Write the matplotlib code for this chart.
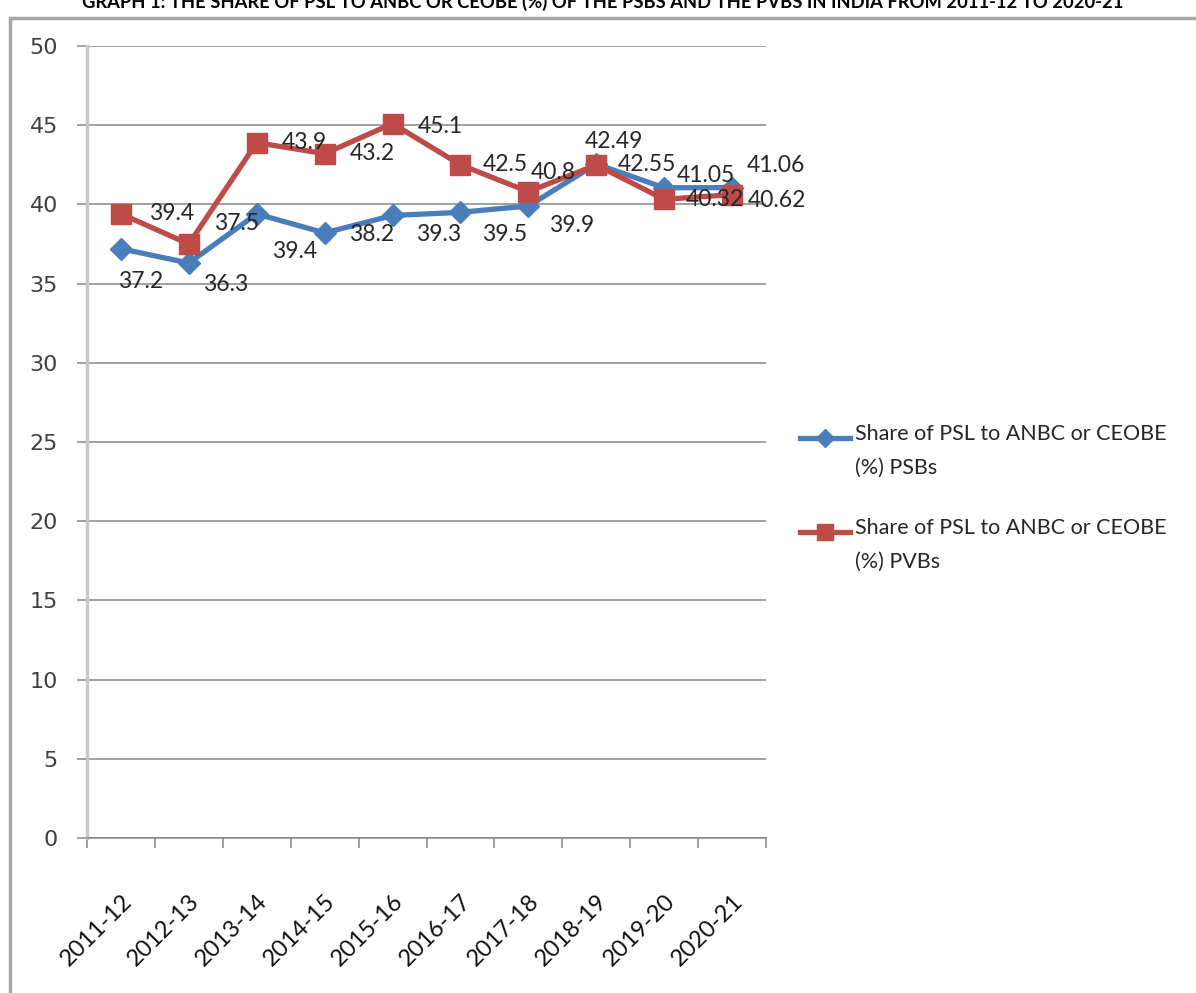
import numpy as np
import matplotlib.pyplot as plt
from matplotlib.lines import Line2D
from matplotlib.patches import Rectangle

plt.rcParams['font.family'] = ['Lato', 'DejaVu Sans']

years = ['2011-12', '2012-13', '2013-14', '2014-15', '2015-16',
         '2016-17', '2017-18', '2018-19', '2019-20', '2020-21']
psb = [37.2, 36.3, 39.4, 38.2, 39.3, 39.5, 39.9, 42.55, 41.05, 41.06]
pvb = [39.4, 37.5, 43.9, 43.2, 45.1, 42.5, 40.8, 42.49, 40.32, 40.62]
psb_name = 'Share of PSL to ANBC or CEOBE\n(%) PSBs'
pvb_name = 'Share of PSL to ANBC or CEOBE\n(%) PVBs'
title = ('GRAPH 1: THE SHARE OF PSL TO ANBC OR CEOBE (%) OF THE PSBS AND THE PVBS '
         'IN INDIA FROM 2011-12 TO 2020-21')

# label nudges in pixels (dx, dy) so the value labels sit like the excel ones
psb_off = [(-3, -33), (14, -21), (15, -38), (24, -2), (23, -19),
           (22, -22), (21, -20), (21, 0), (13, 12), (15, 22)]
pvb_off = [(28, 0), (25, 20), (25, 0), (25, 0), (25, -3),
           (22, 0), (2, 19), (-12, 23), (22, 0), (16, -6)]

blue = '#4a7ebb'
red = '#be4b48'
grid_c = '#868686'
txt_c = '#262626'

W, H = 1196, 993
fig = plt.figure(figsize=(W / 100, H / 100), dpi=100)
ax = fig.add_axes([87 / W, 1 - 838 / H, (766 - 87) / W, (838 - 46) / H])

x = np.arange(len(years)) + 0.5
ax.plot(x, psb, color=blue, lw=3.8, marker='D', ms=11, mec=blue, mfc=blue, zorder=3)
ax.plot(x, pvb, color=red, lw=3.8, marker='s', ms=14, mec=red, mfc=red, zorder=4)

for xi, v, (dx, dy) in zip(x, psb, psb_off):
    ax.annotate(f'{v:g}', (xi, v), xytext=(dx, dy), textcoords='offset pixels',
                ha='left', va='center', fontsize=16.5, color=txt_c, zorder=5)
for xi, v, (dx, dy) in zip(x, pvb, pvb_off):
    ax.annotate(f'{v:g}', (xi, v), xytext=(dx, dy), textcoords='offset pixels',
                ha='left', va='center', fontsize=16.5, color=txt_c, zorder=5)

ax.set_xlim(0, len(years))
ax.set_ylim(0, 50)
ax.set_yticks(np.arange(0, 51, 5))
ax.set_xticks(np.arange(len(years) + 1))
ax.set_xticklabels([])
ax.set_xticks(x, minor=True)
ax.set_xticklabels(years, minor=True, rotation=45, ha='right', va='top',
                   rotation_mode='anchor', fontsize=17, color='#111111')
ax.tick_params(axis='x', which='minor', length=0, pad=38)
ax.tick_params(axis='x', which='major', length=7, color=grid_c, width=1.1)
ax.tick_params(axis='y', length=7, color=grid_c, width=1.1, pad=14,
               labelsize=16, labelcolor='#404040')
for lab in ax.get_yticklabels():
    lab.set_family('DejaVu Sans')

ax.grid(axis='y', color=grid_c, lw=1.1)
ax.set_axisbelow(True)
for s in ['top', 'right']:
    ax.spines[s].set_visible(False)
ax.spines['left'].set_color('#c8c8c8')
ax.spines['left'].set_linewidth(2.5)
ax.spines['bottom'].set_color(grid_c)
ax.spines['bottom'].set_linewidth(1.1)

# legend drawn by hand so the key sits on the first text line
for (ly, col, mk, ms), name in zip([(438, blue, 'D', 9), (532, red, 's', 12)],
                                   [psb_name, pvb_name]):
    yf = 1 - ly / H
    fig.add_artist(Line2D([800 / W, 850 / W], [yf, yf], transform=fig.transFigure,
                          color=col, lw=3.8))
    fig.add_artist(Line2D([825 / W], [yf], transform=fig.transFigure, color=col,
                          marker=mk, ms=ms, mec=col, mfc=col))
    fig.text(855 / W, yf + 14 / H, name, ha='left', va='top', fontsize=15.5,
             color=txt_c, linespacing=1.85)

# outer chart frame and clipped title
fig.add_artist(Rectangle((10 / W, -0.01), 1.02, 1 - 18 / H + 0.01,
                         transform=fig.transFigure, fill=False, ec='#a6a6a6', lw=2.5))
fig.text(603 / W, 1 - 2 / H, title, ha='center', va='center', fontsize=13.2,
         fontweight='bold', color='black')

fig.savefig('out.png', dpi=100)
